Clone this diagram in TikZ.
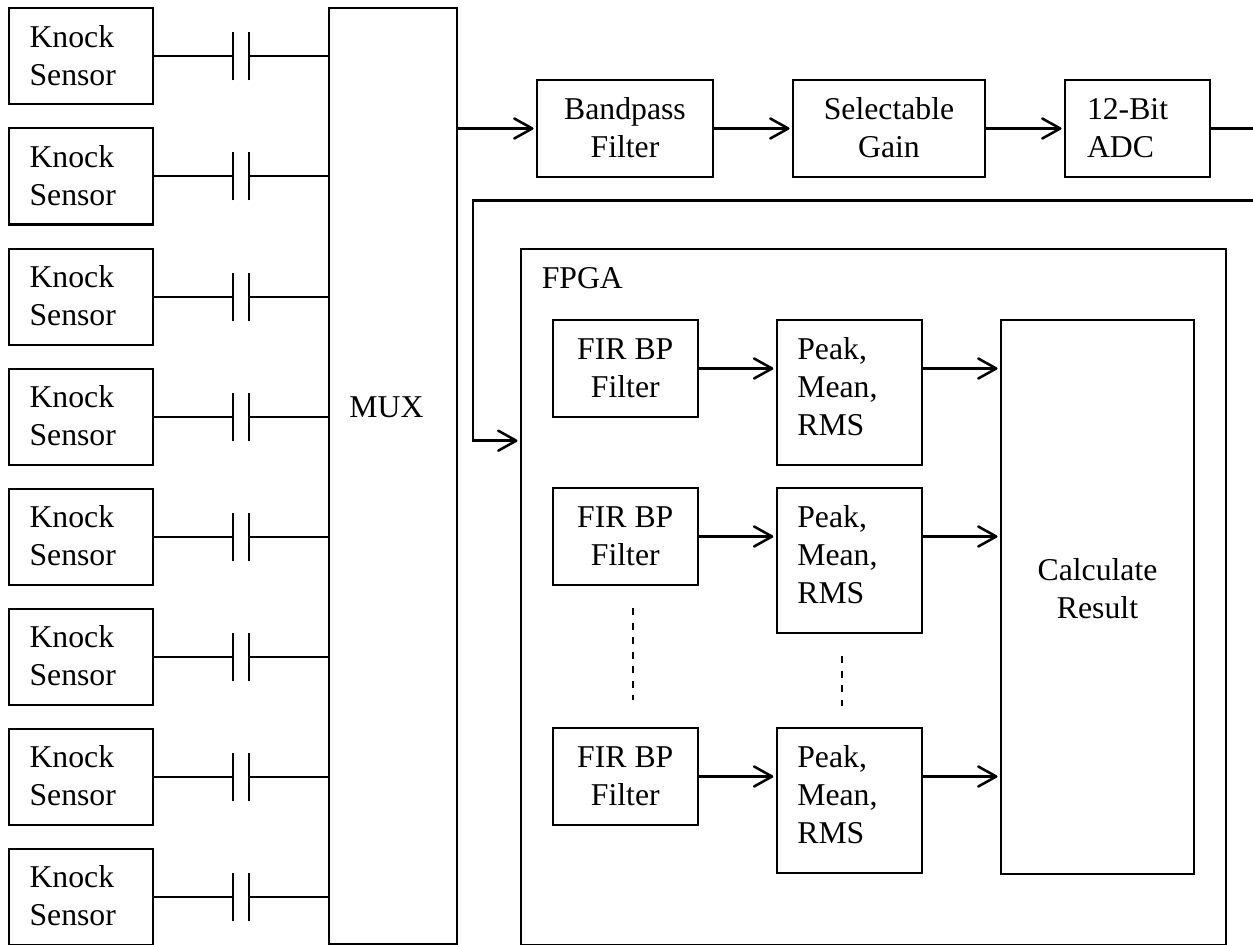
\documentclass[tikz,border=0pt]{standalone}
\usepackage{fontspec}
\setmainfont{Liberation Serif}
\usetikzlibrary{arrows.meta}
\newcommand{\st}{\rule[-6.4pt]{0pt}{28.5pt}}
\newcommand{\dn}{\rule[-13.9pt]{0pt}{1pt}}
\newcommand{\dnc}{\rule[-16.9pt]{0pt}{1pt}}
\tikzset{
  txt/.style={font=\fontsize{23.8}{28.5}\selectfont},
  boxn/.style={draw,line width=1.5pt,outer sep=0pt,inner sep=0pt,txt},
  sensor/.style={boxn,minimum width=108pt,minimum height=72pt,inner xsep=15.4pt,text width=77.2pt,align=left},
  midbox/.style={boxn,minimum height=72.75pt,align=center},
  peakbox/.style={boxn,minimum width=108.75pt,minimum height=108.75pt,inner xsep=15.4pt,text width=77.95pt,align=left},
  firbox/.style={boxn,minimum width=108.5pt,minimum height=72.75pt,align=center},
  wire/.style={line width=1.5pt},
  plate/.style={line width=1.5pt},
  flow/.style={line width=2.2pt,-{Straight Barb[length=13.5pt,width=15pt,line width=1.9pt,round]},shorten >=2.6pt},
  thick wire/.style={line width=2.2pt},
  dots/.style={line width=1.3pt,dash pattern=on 5.4pt off 5.5pt}
}
\begin{document}
\begin{tikzpicture}[x=0.75pt,y=-0.75pt]
\useasboundingbox (0,0) rectangle (1253,945);
% MUX
\node[boxn,minimum width=96pt,minimum height=702pt] (mux) at (393,476) {};
\node[txt,anchor=base,inner sep=0pt] (muxt) at (386.5,417) {MUX};
% sensors
\foreach \i in {1,...,8}{
  \pgfmathsetmacro{\yy}{56.5+120*(\i-1)}
  \node[sensor] (s\i) at (81,\yy) {\st Knock\\\st Sensor};
  \coordinate (pa\i) at (233,\yy);
  \coordinate (pb\i) at (249,\yy);
  \draw[wire] (s\i.east) -- (pa\i);
  \draw[wire] (pb\i) -- (pb\i -| mux.west);
  \draw[plate] ([yshift=24pt*-0.75]pa\i) -- ([yshift=24pt*0.75]pa\i);
  \draw[plate] ([yshift=24pt*-0.75]pb\i) -- ([yshift=24pt*0.75]pb\i);
}
% top chain
\node[midbox,minimum width=132pt] (bp) at (625,128.5) {\st Bandpass\\\st Filter};
\node[midbox,minimum width=144pt] (sel) at (889,128.5) {\st Selectable\\\st Gain};
\node[boxn,minimum width=108.75pt,minimum height=72.75pt,inner xsep=16.5pt,text width=75.75pt,align=left] (adc) at (1137.5,128.5) {\st 12-Bit\\\st ADC};
\coordinate (adcout) at (1253,128.5);
\coordinate (loopr) at (1253,200.5);
\coordinate (loopl) at (473,200.5);
% FPGA
\node[boxn,minimum width=528.5pt,minimum height=522pt] (fpga) at (873.3,596.5) {};
\node[txt,anchor=base west,inner sep=0pt] (fpgat) at (541.5,288) {FPGA};
\foreach \n/\y in {1/368.5,2/536.5,3/776.5}{
  \node[firbox] (f\n) at (625.3,\y) {\st FIR BP\\\st Filter};
}
\foreach \n/\y in {1/392.5,2/560.5,3/800.5}{
  \node[peakbox] (p\n) at (849.3,\y) {\st Peak,\\\st Mean,\\\st RMS\dn};
}
\node[boxn,minimum width=144.75pt,minimum height=415.5pt,align=center] (calc) at (1097.5,596.5) {\st Calculate\\\st Result\dnc};
% connectors
\draw[flow] (bp.west -| mux.east) -- (bp.west);
\draw[flow] (bp.east) -- (sel.west);
\draw[flow] (sel.east) -- (adc.west);
\draw[thick wire] (adc.east) -- (adcout);
\draw[flow,line join=miter] (loopr) -- (loopl) -- (loopl |- 0,440.7) -- (fpga.west |- 0,440.7);
\foreach \n in {1,2,3}{
  \draw[flow] (f\n.east) -- (f\n.east -| p\n.west);
  \draw[flow] (f\n.east -| p\n.east) -- (f\n.east -| calc.west);
}
\coordinate (da) at (633.3,608);
\coordinate (db) at (633.3,700);
\coordinate (dc) at (841.7,656);
\coordinate (dd) at (841.7,706);
\draw[dots] (da) -- (db);
\draw[dots] (dc) -- (dd);
\end{tikzpicture}
\end{document}
